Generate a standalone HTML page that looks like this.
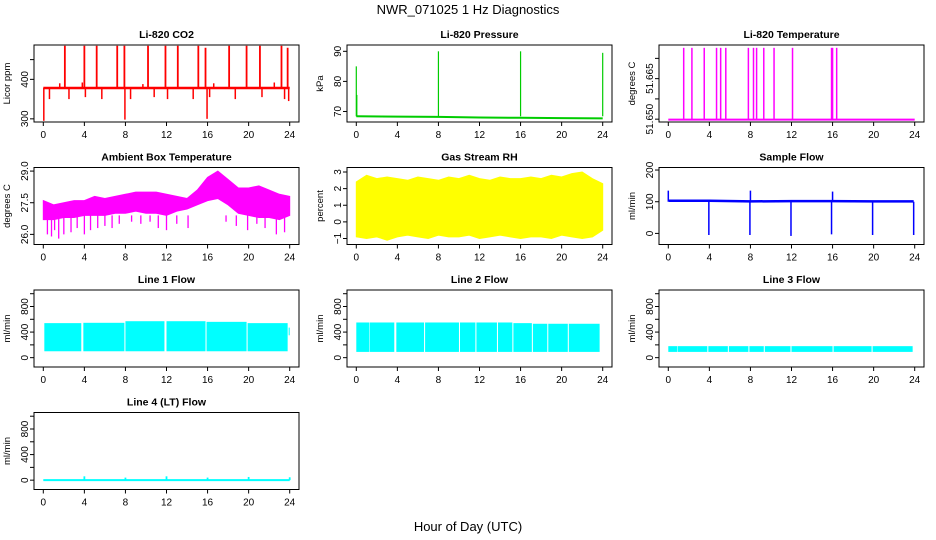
<!DOCTYPE html>
<html><head><meta charset="utf-8"><style>
body{margin:0;background:#fff}
svg{display:block;font-family:"Liberation Sans",sans-serif}
</style></head><body>
<svg id="chart" width="936" height="540" viewBox="0 0 936 540">
<text x="468" y="14" text-anchor="middle" font-size="13">NWR_071025  1 Hz Diagnostics</text>
<text x="468" y="531" text-anchor="middle" font-size="13">Hour of Day (UTC)</text>
</svg>
<script>
// ---- data ----
const xTicks=[0,4,8,12,16,20,24];
const co2Base=[378,378,378,378,378,378,378];
const co2BaseHours=[0,4,8,12,16,20,24];
const co2SpikeHours=[2.1,4.0,5.2,7.2,7.9,10.2,11.9,13.1,15.1,15.8,18.1,19.8,21.1,23.2,23.8];
const co2SpikeVals=[485,485,485,485,485,485,485,485,485,480,485,485,485,485,480];
const co2DipHours=[0.05,0.6,2.5,4.1,5.7,7.95,8.5,10.8,12.1,14.6,15.95,16.2,18.7,21.3,23.5,23.9];
const co2DipVals=[295,350,350,355,350,298,350,355,350,350,300,355,350,355,350,345];
const co2BumpHours=[1.6,3.8,9.7,16.6,22.5];
const co2BumpVals=[390,392,388,390,392];
const presHours=[0,4,8,12,16,20,24];
const presVals=[68.4,68.3,68.2,68.0,67.9,67.8,67.7];
const presSpikeHours=[0,0.05,8,16,24];
const presSpikeVals=[85,75.5,90,90,89.5];
const tempBase=51.6499;
const tempSpikeHours=[1.5,2.3,3.5,4.7,5.1,5.6,7.8,8.3,8.6,9.3,10.3,12.1,15.9,16.0,16.4];
const tempSpikeVals=[51.6676,51.6676,51.6676,51.6676,51.6676,51.6676,51.6676,51.6676,51.6676,51.6676,51.6676,51.6676,51.6676,51.6676,51.6676];
const hourGrid=[0,1,2,3,4,5,6,7,8,9,10,11,12,13,14,15,16,17,18,19,20,21,22,23,24];
const ambHi=[27.6,27.4,27.5,27.6,27.6,27.8,27.7,27.8,27.9,28.0,28.0,28.0,27.9,27.8,27.7,28.1,28.7,29.0,28.6,28.2,28.2,28.3,28.1,27.9,27.8];
const ambLo=[26.7,26.7,26.8,26.8,26.9,26.9,26.9,27.0,27.0,27.1,27.0,27.0,26.9,27.1,27.2,27.4,27.6,27.7,27.4,27.0,26.9,26.8,26.8,26.7,26.9];
const ambDipHours=[0.4,0.8,1.1,1.5,2.0,2.7,3.3,4.0,4.6,5.3,6.0,6.7,7.4,8.6,9.5,10.4,11.2,12.0,13.0,14.1,17.8,18.8,19.9,20.8,21.6,22.7,23.5];
const ambDipVals=[26.0,25.9,26.2,25.8,26.0,26.1,26.3,26.0,26.2,26.3,26.4,26.3,26.5,26.6,26.5,26.6,26.3,26.2,26.5,26.3,26.6,26.4,26.2,26.5,26.3,26.0,26.1];
const rhHi=[2.4,2.8,2.6,2.7,2.6,2.5,2.7,2.6,2.5,2.7,2.6,2.8,2.6,2.5,2.7,2.6,2.6,2.7,2.6,2.8,2.7,2.9,3.0,2.6,2.3];
const rhLo=[-0.9,-1.0,-0.9,-1.1,-0.9,-0.8,-0.9,-1.0,-0.8,-0.9,-0.9,-0.8,-1.0,-0.9,-0.8,-0.9,-1.0,-0.9,-0.9,-1.0,-0.8,-0.9,-1.0,-0.9,-0.5];
const sfHours=[0.05,4,8,12,16,20,23.9];
const sfVals=[103,103,101,102,102,101,101];
const sfSpikeHours=[0,3.95,7.95,8.0,11.95,15.9,16.0,19.9,23.9];
const sfSpikeVals=[135,-5,-5,135,-8,-3,132,-5,-5];
const l1Start=[0.1,3.9,8.0,12.0,15.9,19.9,23.9];
const l1End=[3.7,7.9,11.8,15.8,19.8,23.8,24.0];
const l1Lo=[100,100,100,100,100,100,350];
const l1Hi=[540,545,570,570,560,540,470];
const l2Start=[0,1.3,3.9,6.7,10.1,11.7,13.8,15.3,17.2,18.7,20.7];
const l2End=[1.25,3.7,6.6,10.0,11.6,13.7,15.2,17.1,18.6,20.6,23.7];
const l2Lo=[90,90,90,90,90,90,90,90,90,90,90];
const l2Hi=[550,550,550,550,550,550,550,540,530,530,530];
const l3Start=[0,0.9,3.9,5.9,7.9,9.4,12.0,16.1,19.9];
const l3End=[0.85,3.8,5.8,7.8,9.3,11.9,16.0,19.8,23.8];
const l3Lo=[90,90,90,90,90,90,90,90,90];
const l3Hi=[180,180,180,180,180,180,180,180,180];
const l4SpikeHours=[4,8,12,16,20,24];
const l4SpikeVals=[60,40,60,40,50,45];

// ---- layout ----
const NS="http://www.w3.org/2000/svg";
const svg=document.getElementById('chart');
const colL=[34,347,659], rowT=[45,167.5,290,412.5], W=265, H=77;
function mk(tag,attrs,parent){const e=document.createElementNS(NS,tag);for(const k in attrs)e.setAttribute(k,attrs[k]);(parent||svg).appendChild(e);return e;}

function panel(c,r,title,ylab,ymin,ymax,ticks,labels,name){
  const L=colL[c],T=rowT[r];
  const g=mk('g',{});
  
  
  const xs=h=>L+9.3+h*(W-18.6)/24;
  const ys=v=>T+H-(v-ymin)/(ymax-ymin)*H;
  const t=mk('text',{x:L+W/2,y:T-7,'text-anchor':'middle','font-size':'10.5','font-weight':'bold'},g);
  t.textContent=title;
  
  
  const yl=mk('text',{transform:`translate(${L-24},${T+H/2}) rotate(-90)`,'text-anchor':'middle','font-size':'9.5'},g);
  yl.textContent=ylab;
  
  
  mk('line',{x1:xs(0),x2:xs(24),y1:T+H,y2:T+H,stroke:'#000'},g);
  xTicks.forEach(h=>{
    mk('line',{x1:xs(h),x2:xs(h),y1:T+H,y2:T+H+4,stroke:'#000'},g);
    const tx=mk('text',{x:xs(h),y:T+H+16,'text-anchor':'middle','font-size':'10'},g);
    tx.textContent=h;
    
    
  });
  ticks.forEach((v,i)=>{
    mk('line',{x1:L-4,x2:L,y1:ys(v),y2:ys(v),stroke:'#000'},g);
    if(labels[i]){
      const ty=mk('text',{transform:`translate(${L-6},${ys(v)}) rotate(-90)`,'text-anchor':'middle','font-size':'10'},g);
      ty.textContent=labels[i];
      
      
    }
  });
  mk('line',{x1:L,x2:L,y1:ys(ticks[0]),y2:ys(ticks[ticks.length-1]),stroke:'#000'},g);
  const dg=mk('g',{},g);
  
  
  const box=mk('rect',{x:L,y:T,width:W,height:H,fill:'none',stroke:'#000'},g);
  
  
  return {xs,ys,g:dg};
}
function vlines(p,hours,vals,base,color,w){hours.forEach((h,i)=>mk('line',{x1:p.xs(h),x2:p.xs(h),y1:p.ys(base),y2:p.ys(vals[i]),stroke:color,'stroke-width':w||1.5},p.g));}
function poly(p,hours,vals,color,w){mk('polyline',{points:hours.map((h,i)=>p.xs(h)+','+p.ys(vals[i])).join(' '),fill:'none',stroke:color,'stroke-width':w||2},p.g);}
function band(p,hours,lo,hi,color){const pts=hours.map((h,i)=>p.xs(h)+','+p.ys(hi[i])).concat(hours.slice().reverse().map((h,j)=>{const i=hours.length-1-j;return p.xs(h)+','+p.ys(lo[i]);}));mk('polygon',{points:pts.join(' '),fill:color,stroke:color},p.g);}
function segs(p,s,e,lo,hi,color){s.forEach((a,i)=>mk('rect',{x:p.xs(a),y:p.ys(hi[i]),width:p.xs(e[i])-p.xs(a),height:p.ys(lo[i])-p.ys(hi[i]),fill:color},p.g));}

let p=panel(0,0,'Li-820 CO2','Licor ppm',292,487,[300,400,450],['300','400',''],'co2');
poly(p,co2BaseHours,co2Base,'#f00',2.5);
vlines(p,co2SpikeHours,co2SpikeVals,co2Base[0],'#f00',1.8);
vlines(p,co2DipHours,co2DipVals,co2Base[0],'#f00',1.5);
vlines(p,co2BumpHours,co2BumpVals,co2Base[0],'#f00',1.5);
p=panel(1,0,'Li-820 Pressure','kPa',66.5,92.1,[70,80,90],['70','80','90'],'pressure');
poly(p,presHours,presVals,'#0c0',2);
vlines(p,presSpikeHours,presSpikeVals,presVals[0],'#0c0',1.2);
p=panel(2,0,'Li-820 Temperature','degrees C',51.6493,51.6683,[51.650,51.655,51.660,51.665],['51.650','','51.665',''],'li820-temp');
poly(p,[0,24],[tempBase,tempBase],'#f0f',2);
vlines(p,tempSpikeHours,tempSpikeVals,tempBase,'#f0f',1.5);
p=panel(0,1,'Ambient Box Temperature','degrees C',25.52,29.17,[26.0,27.5,29.0],['26.0','27.5','29.0'],'ambient-temp');
band(p,hourGrid,ambLo,ambHi,'#f0f');
vlines(p,ambDipHours,ambDipVals,26.9,'#f0f',1.3);
p=panel(1,1,'Gas Stream RH','percent',-1.36,3.27,[-1,0,1,2,3],['\u22121','0','1','2','3'],'rh');
band(p,hourGrid,rhLo,rhHi,'#ff0');
p=panel(2,1,'Sample Flow','ml/min',-35,208,[0,100,200],['0','100','200'],'sample-flow');
poly(p,sfHours,sfVals,'#00f',2.5);
vlines(p,sfSpikeHours,sfSpikeVals,100,'#00f',1.5);
const fT=[0,200,400,600,800,1000], fL=['0','','400','','800',''];
p=panel(0,2,'Line 1 Flow','ml/min',-146,1058,fT,fL,'line1-flow');
segs(p,l1Start,l1End,l1Lo,l1Hi,'#0ff');
p=panel(1,2,'Line 2 Flow','ml/min',-146,1058,fT,fL,'line2-flow');
segs(p,l2Start,l2End,l2Lo,l2Hi,'#0ff');
p=panel(2,2,'Line 3 Flow','ml/min',-146,1058,fT,fL,'line3-flow');
segs(p,l3Start,l3End,l3Lo,l3Hi,'#0ff');
p=panel(0,3,'Line 4 (LT) Flow','ml/min',-146,1058,fT,fL,'line4-flow');
poly(p,[0,24],[0,0],'#0ff',2);
vlines(p,l4SpikeHours,l4SpikeVals,0,'#0ff',1.8);
</script>
</body></html>
